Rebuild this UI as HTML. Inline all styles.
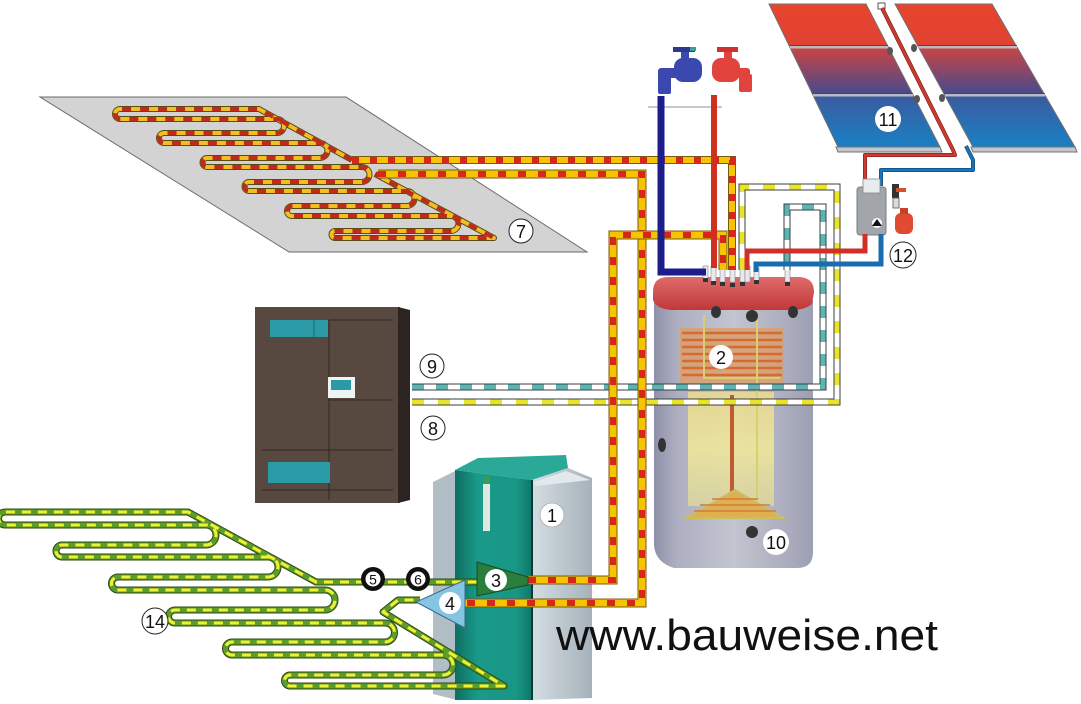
<!DOCTYPE html>
<html><head><meta charset="utf-8"><style>
html,body{margin:0;padding:0;background:#fff;}
svg{display:block;}
text{font-family:"Liberation Sans",sans-serif;}
</style></head><body>
<svg width="1081" height="704" viewBox="0 0 1081 704" xmlns="http://www.w3.org/2000/svg">
<defs>
 <linearGradient id="sol" x1="0" y1="4" x2="0" y2="147" gradientUnits="userSpaceOnUse">
   <stop offset="0" stop-color="#e8442e"/>
   <stop offset="0.29" stop-color="#e04232"/>
   <stop offset="0.31" stop-color="#c84444"/>
   <stop offset="0.62" stop-color="#4a4a8c"/>
   <stop offset="0.65" stop-color="#3a5ca0"/>
   <stop offset="1" stop-color="#1a80c4"/>
 </linearGradient>
 <linearGradient id="tankg" x1="0" x2="1" y1="0" y2="0">
   <stop offset="0" stop-color="#8e90a8"/>
   <stop offset="0.15" stop-color="#aeb0c2"/>
   <stop offset="0.5" stop-color="#c2c4d0"/>
   <stop offset="0.85" stop-color="#aaacbe"/>
   <stop offset="1" stop-color="#9c9eb2"/>
 </linearGradient>
 <linearGradient id="glow" x1="0" x2="0" y1="0" y2="1">
   <stop offset="0" stop-color="#e8d890"/>
   <stop offset="0.5" stop-color="#eee69a"/>
   <stop offset="1" stop-color="#d8d4a0"/>
 </linearGradient>
 <linearGradient id="teal" x1="0" x2="1" y1="0" y2="0">
   <stop offset="0" stop-color="#0e6e62"/>
   <stop offset="0.3" stop-color="#1a9a8a"/>
   <stop offset="0.8" stop-color="#189686"/>
   <stop offset="1" stop-color="#0f7668"/>
 </linearGradient>
 <linearGradient id="grayp" x1="0" x2="1" y1="0" y2="0">
   <stop offset="0" stop-color="#d4dde2"/>
   <stop offset="1" stop-color="#a6b2ba"/>
 </linearGradient>
 <linearGradient id="lid" x1="0" x2="0" y1="0" y2="1">
   <stop offset="0" stop-color="#e06a6a"/>
   <stop offset="1" stop-color="#c03838"/>
 </linearGradient>
 <path id="fh7" d="M352,160 L259,109 L120,109 A5,5 0 0 0 120,119 L277,119 A7,7 0 0 1 277,133 L164,133 A5,5 0 0 0 164,143 L320,143 A7.5,7.5 0 0 1 320,158 L207,158 A4.5,4.5 0 0 0 207,167 L362,167 A7.5,7.5 0 0 1 362,182 L249,182 A4.5,4.5 0 0 0 249,191 L407,191 A7.5,7.5 0 0 1 407,206 L292,206 A5,5 0 0 0 292,216 L451,216 A7.5,7.5 0 0 1 451,231 L335,231 A3.5,3.5 0 0 0 335,238 L494,238 L375,174"/>
 <path id="fh14" d="M477,582 L316,582 L188,512 L5,512 A6.5,6.5 0 0 0 5,525 L206,525 A10,10 0 0 1 206,545 L62,545 A6,6 0 0 0 62,557 L268,557 A10,10 0 0 1 268,577 L118,577 A6.5,6.5 0 0 0 118,590 L325,590 A10,10 0 0 1 325,610 L175,610 A6.5,6.5 0 0 0 175,623 L385,623 A9.5,9.5 0 0 1 385,642 L232,642 A6.5,6.5 0 0 0 232,655 L443,655 A10,10 0 0 1 443,675 L290,675 A5.5,5.5 0 0 0 290,686 L504,686 L383,612 L398,600 L420,600"/>
 <path id="p9" d="M412,387 L823,387 L823,207 L787,207 L787,270"/>
 <path id="p8" d="M412,402 L837,402 L837,187 L742,187 L742,270"/>
 <path id="pa" d="M352,160 L732,160 L732,270"/>
 <path id="pb" d="M378,174 L642,174 L642,603 L465,603"/>
 <path id="pc" d="M528,580 L613,580 L613,235 L723,235 L723,270"/>
 <path id="sr" d="M882,8 L953,150 L955,155 L865,155 L865,183"/>
 <path id="sb" d="M966,146 L973,160 L973,170 L881,170 L881,186"/>
</defs>

<!-- Floor plate 7 -->
<polygon points="40,97 346,97 587,252 289,252" fill="#d3d3d3" stroke="#6a6a6a" stroke-width="1"/>
<g fill="none" stroke-linejoin="round">
 <use href="#fh7" stroke="#5a4a18" stroke-width="6"/>
 <use href="#fh7" stroke="#f0c020" stroke-width="4"/>
 <use href="#fh7" stroke="#c02a1a" stroke-width="4" stroke-dasharray="9 9"/>
</g>

<!-- Solar collectors -->
<g stroke="#707070" stroke-width="1">
 <polygon points="836,147 940,147 942,152 838,152" fill="#c4c8cc"/>
 <polygon points="971,147 1075,147 1077,152 973,152" fill="#c4c8cc"/>
 <polygon points="769,4 866,4 940,147 838,147" fill="url(#sol)"/>
 <polygon points="895,4 992,4 1075,147 973,147" fill="url(#sol)"/>
</g>
<g stroke="#b8bcc0" stroke-width="3">
 <line x1="790" y1="47" x2="888" y2="47"/>
 <line x1="813" y1="95" x2="913" y2="95"/>
 <line x1="918" y1="47" x2="1017" y2="47"/>
 <line x1="945" y1="95" x2="1045" y2="95"/>
</g>
<g stroke="#333" stroke-width="0.8">
 <line x1="790" y1="45.5" x2="888" y2="45.5"/>
 <line x1="813" y1="93.5" x2="913" y2="93.5"/>
 <line x1="918" y1="45.5" x2="1017" y2="45.5"/>
 <line x1="945" y1="93.5" x2="1045" y2="93.5"/>
</g>
<g fill="#555">
 <ellipse cx="890" cy="51" rx="3" ry="4"/><ellipse cx="914" cy="48" rx="3" ry="4"/>
 <ellipse cx="917" cy="99" rx="3" ry="4"/><ellipse cx="942" cy="98" rx="3" ry="4"/>
</g>
<rect x="878" y="3" width="7" height="6" fill="#fff" stroke="#555" stroke-width="1"/>
<g fill="none" stroke-linejoin="round">
 <use href="#sr" stroke="#8a2020" stroke-width="4"/>
 <use href="#sr" stroke="#d03a30" stroke-width="2.5"/>
 <use href="#sb" stroke="#124c80" stroke-width="4"/>
 <use href="#sb" stroke="#1a74b8" stroke-width="2.5"/>
</g>
<!-- Station 12 -->
<rect x="857" y="187" width="29" height="48" rx="3" fill="#a2a6aa" stroke="#7a7e82" stroke-width="1"/>
<rect x="863" y="179" width="17" height="14" fill="#e8ecec" stroke="#888" stroke-width="0.8"/>
<circle cx="877" cy="223" r="5" fill="#fff"/>
<polygon points="872,226 877,219 882,226" fill="#111"/>
<rect x="892" y="184" width="7" height="14" fill="#333"/>
<rect x="896" y="188" width="10" height="4" fill="#d05030"/>
<rect x="893" y="198" width="6" height="10" fill="#ddd" stroke="#555" stroke-width="0.8"/>
<rect x="895" y="213" width="18" height="21" rx="6" fill="#e04a30"/>
<rect x="900" y="208" width="8" height="6" fill="#c84028"/>

<!-- Faucets -->
<line x1="648" y1="107" x2="722" y2="107" stroke="#c4c8d0" stroke-width="2"/>
<g fill="#3a48b0">
 <rect x="673" y="47" width="22" height="5" fill="#2a3a8c"/>
 <rect x="690" y="47" width="6" height="4" fill="#3aa0a0"/>
 <rect x="681" y="52" width="8" height="10"/>
 <rect x="674" y="58" width="28" height="24" rx="9"/>
 <rect x="658" y="68" width="20" height="10" rx="3"/>
 <rect x="658" y="74" width="13" height="20" rx="2"/>
</g>
<g fill="#e0443c">
 <rect x="717" y="47" width="21" height="5" fill="#d03030"/>
 <rect x="724" y="52" width="8" height="10"/>
 <rect x="712" y="58" width="28" height="24" rx="9"/>
 <rect x="730" y="68" width="20" height="10" rx="3"/>
 <rect x="739" y="74" width="13" height="18" rx="2"/>
</g>

<!-- Tank -->
<path d="M654,300 L813,300 L813,552 Q813,568 797,568 L674,568 Q655,562 654,545 Z" fill="url(#tankg)"/>
<rect x="688" y="392" width="86" height="114" fill="url(#glow)" opacity="0.9"/>
<rect x="680" y="328" width="104" height="56" fill="#d8a070" opacity="0.85"/>
<g stroke="#d86a30" stroke-width="2.5">
 <line x1="682" y1="333" x2="782" y2="333"/><line x1="682" y1="340" x2="782" y2="340"/>
 <line x1="682" y1="347" x2="782" y2="347"/><line x1="682" y1="354" x2="782" y2="354"/>
 <line x1="682" y1="361" x2="782" y2="361"/><line x1="682" y1="368" x2="782" y2="368"/>
 <line x1="682" y1="375" x2="782" y2="375"/>
</g>
<g stroke="#d8d070" stroke-width="2" fill="none">
 <path d="M704,315 L704,378 L780,378"/>
 <path d="M757,315 L757,515 L690,515"/>
</g>
<line x1="732" y1="395" x2="732" y2="500" stroke="#c05a30" stroke-width="4"/>
<polygon points="686,518 783,518 735,490" fill="#e0b050" stroke="#c8c060" stroke-width="2"/>
<g stroke="#d07a40" stroke-width="1.5">
 <line x1="700" y1="505" x2="770" y2="505"/><line x1="694" y1="511" x2="776" y2="511"/>
 <line x1="712" y1="499" x2="758" y2="499"/>
</g>
<path d="M653,292 Q653,277 668,277 L800,277 Q814,278 814,292 L812,304 Q804,311 786,310 L672,310 Q656,309 653,300 Z" fill="url(#lid)"/>
<g fill="#333">
 <ellipse cx="716" cy="312" rx="5" ry="6"/><ellipse cx="752" cy="316" rx="6" ry="6"/>
 <ellipse cx="793" cy="312" rx="5" ry="6"/><ellipse cx="662" cy="445" rx="4" ry="7"/>
 <ellipse cx="752" cy="532" rx="6" ry="6"/>
</g>
<g fill="#e8e8ee" stroke="#888" stroke-width="0.6">
 <rect x="703" y="266" width="5" height="14"/><rect x="711" y="266" width="5" height="16"/>
 <rect x="720" y="266" width="5" height="16"/><rect x="730" y="266" width="5" height="16"/>
 <rect x="740" y="266" width="5" height="16"/><rect x="745" y="266" width="5" height="16"/>
 <rect x="754" y="268" width="5" height="14"/><rect x="785" y="266" width="5" height="16"/>
</g>
<g fill="#333">
 <rect x="703" y="278" width="5" height="4"/><rect x="711" y="281" width="5" height="4"/>
 <rect x="720" y="282" width="5" height="4"/><rect x="730" y="283" width="5" height="4"/>
 <rect x="740" y="282" width="5" height="4"/><rect x="754" y="280" width="5" height="4"/>
 <rect x="785" y="282" width="5" height="4"/>
</g>

<!-- Box (8/9 unit) -->
<rect x="255" y="307" width="145" height="196" fill="#574840"/>
<polygon points="398,307 410,310 410,500 398,503" fill="#2c2420"/>
<g stroke="#33291f" stroke-width="1" fill="none">
 <line x1="329" y1="320" x2="329" y2="500"/>
 <line x1="329" y1="320" x2="393" y2="320"/>
 <line x1="329" y1="400" x2="393" y2="400"/>
 <line x1="262" y1="450" x2="393" y2="450"/>
 <line x1="262" y1="490" x2="393" y2="490"/>
</g>
<rect x="270" y="320" width="58" height="17" fill="#2a9aa6"/>
<line x1="314" y1="320" x2="314" y2="337" stroke="#1a6a76" stroke-width="1"/>
<rect x="268" y="462" width="62" height="21" fill="#2a9aa6"/>
<rect x="328" y="377" width="27" height="21" fill="#eef4f4"/>
<rect x="331" y="380" width="20" height="10" fill="#2a9aa6"/>

<!-- Boiler -->
<polygon points="433,482 457,470 457,700 433,694" fill="#b2bec6"/>
<polygon points="455,470 532,480 532,700 455,700" fill="url(#teal)"/>
<polygon points="455,470 478,458 566,455 568,468 532,480" fill="#2aa898"/>
<polygon points="532,480 568,468 592,478 592,698 532,700" fill="url(#grayp)"/>
<polygon points="534,482 566,471 590,480 536,486" fill="#e2e8ec"/>
<line x1="532" y1="480" x2="532" y2="700" stroke="#0a3a34" stroke-width="2"/>
<rect x="483" y="476" width="7" height="55" fill="#dfe8e2"/>
<rect x="483" y="476" width="7" height="8" fill="#3a9a5a"/>

<!-- Floor heating 14 -->
<g fill="none" stroke-linejoin="round">
 <use href="#fh14" stroke="#2e4a10" stroke-width="7"/>
 <use href="#fh14" stroke="#5c9c2c" stroke-width="5"/>
 <use href="#fh14" stroke="#f2f030" stroke-width="3" stroke-dasharray="9 7"/>
</g>

<!-- Pipes 8 / 9 -->
<g fill="none" stroke-linejoin="miter">
 <use href="#p9" stroke="#3c4040" stroke-width="7"/>
 <use href="#p9" stroke="#fff" stroke-width="5"/>
 <use href="#p9" stroke="#5ab4b4" stroke-width="5" stroke-dasharray="12 12"/>
 <use href="#p8" stroke="#3c4040" stroke-width="7"/>
 <use href="#p8" stroke="#fff" stroke-width="5"/>
 <use href="#p8" stroke="#e8e42a" stroke-width="5" stroke-dasharray="12 14"/>
</g>

<!-- Heating pipes -->
<g fill="none" stroke-linejoin="miter">
 <use href="#pa" stroke="#7a5a10" stroke-width="8"/>
 <use href="#pa" stroke="#f6c400" stroke-width="6"/>
 <use href="#pa" stroke="#d8261a" stroke-width="6" stroke-dasharray="7 11"/>
 <use href="#pb" stroke="#7a5a10" stroke-width="9"/>
 <use href="#pb" stroke="#f6c400" stroke-width="7"/>
 <use href="#pb" stroke="#d8261a" stroke-width="6" stroke-dasharray="8 12"/>
 <use href="#pc" stroke="#7a5a10" stroke-width="9"/>
 <use href="#pc" stroke="#f6c400" stroke-width="7"/>
 <use href="#pc" stroke="#d8261a" stroke-width="6" stroke-dasharray="8 12"/>
</g>

<!-- DHW pipes -->
<path d="M661,96 L661,272 L706,272" fill="none" stroke="#1c1c8c" stroke-width="7"/>
<path d="M714,95 L714,268" fill="none" stroke="#d03020" stroke-width="6"/>
<!-- solar lower pipes -->
<path d="M865,234 L865,251 L747,251 L747,270" fill="none" stroke="#d03028" stroke-width="5"/>
<path d="M881,234 L881,264 L756,264 L756,272" fill="none" stroke="#1a6cb0" stroke-width="5"/>

<!-- Triangles 3 / 4 -->
<polygon points="477,562 528,577 528,585 477,596" fill="#2a7e3c" stroke="#1a4a20" stroke-width="1"/>
<polygon points="465,580 416,602 465,628" fill="#86c4e4" stroke="#3a6a8a" stroke-width="1"/>

<!-- 5 / 6 -->
<circle cx="373" cy="579" r="12" fill="#111"/>
<circle cx="373" cy="579" r="7.5" fill="#fff"/>
<text x="373" y="584.5" font-size="14" text-anchor="middle" fill="#111">5</text>
<circle cx="418" cy="579" r="12" fill="#111"/>
<circle cx="418" cy="579" r="7.5" fill="#fff"/>
<text x="418" y="584.5" font-size="14" text-anchor="middle" fill="#111">6</text>

<!-- Labels -->
<g font-size="18" text-anchor="middle" fill="#111">
 <circle cx="521" cy="231" r="12" fill="#fff" stroke="#222" stroke-width="1"/>
 <text x="521" y="238">7</text>
 <circle cx="432" cy="366" r="12" fill="#fff" stroke="#222" stroke-width="1"/>
 <text x="432" y="373">9</text>
 <circle cx="433" cy="428" r="12" fill="#fff" stroke="#222" stroke-width="1"/>
 <text x="433" y="435">8</text>
 <circle cx="721" cy="357" r="12" fill="#fff"/>
 <text x="721" y="364">2</text>
 <circle cx="776" cy="542" r="13" fill="#fff"/>
 <text x="776" y="549">10</text>
 <circle cx="888" cy="119" r="13" fill="#fff"/>
 <text x="888" y="126">11</text>
 <circle cx="903" cy="255" r="13" fill="#fff" stroke="#222" stroke-width="1"/>
 <text x="903" y="262">12</text>
 <circle cx="552" cy="515" r="12" fill="#fff" stroke="#999" stroke-width="0.6"/>
 <text x="552" y="522">1</text>
 <circle cx="496" cy="580" r="11" fill="#fff"/>
 <text x="496" y="587">3</text>
 <circle cx="450" cy="603" r="11" fill="#fff"/>
 <text x="450" y="610">4</text>
 <circle cx="155" cy="621" r="13" fill="#fff" stroke="#222" stroke-width="1"/>
 <text x="155" y="628">14</text>
</g>

<!-- URL -->
<text x="556" y="650" font-size="44" fill="#111" textLength="382" lengthAdjust="spacingAndGlyphs">www.bauweise.net</text>
</svg>
</body></html>
